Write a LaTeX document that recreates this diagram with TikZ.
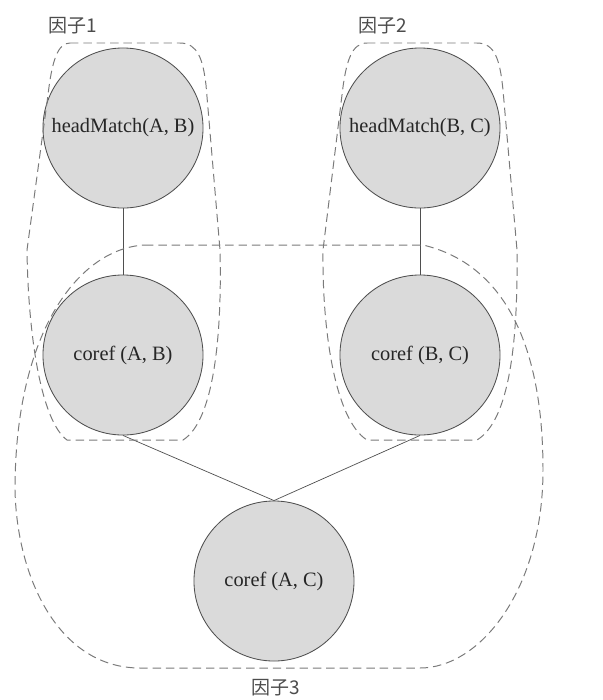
\documentclass[tikz,border=0pt]{standalone}
\usepackage{fontspec}
\setmainfont{Liberation Serif}
\newfontfamily\cjk{Noto Sans CJK SC}
\usetikzlibrary{positioning}
\definecolor{fgnodo}{HTML}{DADADA}
\definecolor{fgborde}{HTML}{4F4F4F}
\definecolor{fgdash}{HTML}{7A7A7A}

\begin{document}
\begin{tikzpicture}[x=0.025cm, y=-0.025cm,
  var/.style={circle, draw=fgborde, line width=0.6pt, fill=fgnodo, minimum size=4cm,
              inner sep=0pt, font=\fontsize{14.5}{17}\selectfont, text=black!85},
  factor/.style={draw=fgdash, line width=0.7pt, dash pattern=on 6pt off 3.5pt},
  factorlbl/.style={font=\cjk\fontsize{13.5}{16}\selectfont, text=black!70},
  link/.style={draw=fgborde, line width=0.5pt},
]
\useasboundingbox (0,0) rectangle (603,700);

% Nodos variables
\node[var] (hmAB)  at (123,128) {headMatch(A, B)};
\node[var] (hmBC)  at (420,128) {headMatch(B, C)};
\node[var] (cfAB)  at (123,355) {coref (A, B)};
\node[var] (cfBC)  at (420,355) {coref (B, C)};
\node[var] (cfAC)  at (274,581) {coref (A, C)};

% Aristas
\draw[link] (hmAB) -- (cfAB);
\draw[link] (hmBC) -- (cfBC);
\draw[link] (cfAB.south) -- (cfAC.north);
\draw[link] (cfBC.south) -- (cfAC.north);

% Factores (contornos discontinuos)
\draw[factor] (70,43) -- (180,43) .. controls (198,43) and (203,60) .. (206,85)
  -- (220,250) .. controls (222,330) and (215,420) .. (183,440)
  -- (67,440) .. controls (40,420) and (28,330) .. (27,250)
  -- (48,95) .. controls (52,60) and (58,43) .. (70,43) -- cycle;
\draw[factor] (367,43) -- (477,43) .. controls (495,43) and (500,60) .. (503,90)
  -- (517,250) .. controls (518,340) and (510,420) .. (477,440)
  -- (367,440) .. controls (335,420) and (322,330) .. (323,250)
  -- (342,95) .. controls (346,60) and (352,43) .. (367,43) -- cycle;
\draw[factor] (145,245) -- (423,245) .. controls (495,262) and (543,330) .. (543,470)
  .. controls (543,590) and (480,668) .. (420,668)
  -- (140,668) .. controls (60,668) and (17,580) .. (15,490)
  .. controls (15,330) and (80,248) .. (145,245) -- cycle;

% Etiquetas de factores
\node[factorlbl] (f1) at (73,26)  {因子1};
\node[factorlbl] (f2) at (383,26) {因子2};
\node[factorlbl] (f3) at (276,688) {因子3};

\end{tikzpicture}
\end{document}
